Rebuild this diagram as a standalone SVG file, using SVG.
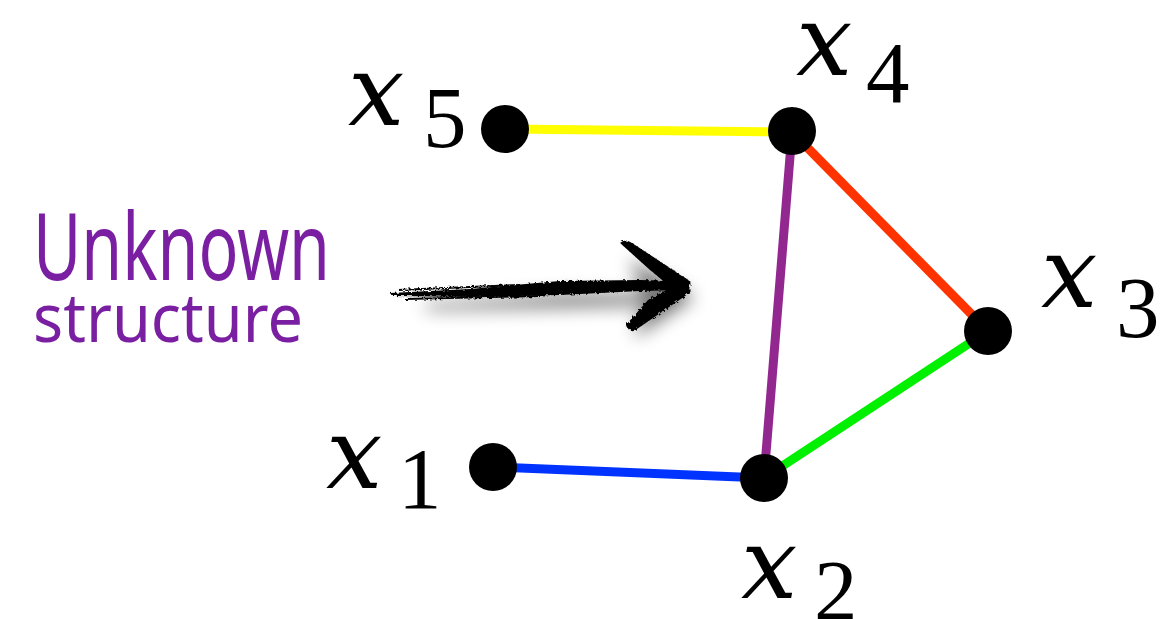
<svg xmlns="http://www.w3.org/2000/svg" width="1162" height="619" viewBox="0 0 1162 619">
<style>
.var{font-family:"DejaVu Serif","Liberation Serif",serif;font-style:italic;font-size:100px;fill:#000}
.sub{font-family:"Liberation Serif","DejaVu Serif",serif;font-size:87px;fill:#000}
.edge{stroke-width:9;stroke-linecap:butt;fill:none}
.dot{fill:#000}
.hand{font-family:"Noto Sans","Open Sans",sans-serif;fill:#7b1fa2}
</style>
<defs>
<filter id="blur" x="-30%" y="-80%" width="160%" height="260%">
<feGaussianBlur stdDeviation="9"/>
</filter>
<filter id="rough" x="-5%" y="-20%" width="110%" height="140%">
<feTurbulence type="fractalNoise" baseFrequency="0.35" numOctaves="2" seed="3" result="n"/>
<feDisplacementMap in="SourceGraphic" in2="n" scale="4"/>
</filter>
</defs>
<rect width="1162" height="619" fill="#fff"/>
<g id="label">
<text class="hand" x="33" y="280" font-size="94" textLength="297" lengthAdjust="spacingAndGlyphs">Unknown</text>
<text class="hand" x="33" y="342" font-size="68" textLength="270" lengthAdjust="spacingAndGlyphs">structure</text>
</g>
<g id="arrow">
<g filter="url(#blur)" opacity="0.55" transform="translate(6,12)">
<path d="M420,292 L560,282 L680,282 L682,292 L560,295 L420,298 Z" fill="#000"/>
<path d="M624,246 L688,285 L628,326 L640,288 Z" fill="#000"/>
</g>
<g filter="url(#rough)">
<path d="M390,293 L470,289 L560,281 L640,280 L682,281 L683,290 L640,291 L560,295 L470,297 L392,296 Z" fill="#000"/>
<path d="M398,290 L520,285" stroke="#000" stroke-width="2" fill="none"/>
<path d="M405,299 L540,296" stroke="#000" stroke-width="2" fill="none"/>
<path d="M620,243 Q625,238 632,243 L690,281 Q692,287 686,291 L673,289 L650,270 Z" fill="#000"/>
<path d="M686,283 Q692,289 688,294 L637,329 Q628,333 626,325 L648,300 L668,289 Z" fill="#000"/>
</g>
</g>
<g id="connectors">
<line class="edge" x1="505" y1="129" x2="792" y2="132" stroke="#ffff00"/>
<line class="edge" x1="493" y1="467" x2="764" y2="478" stroke="#0033ff"/>
<line class="edge" x1="792" y1="132" x2="764" y2="478" stroke="#92278f"/>
<line class="edge" x1="792" y1="132" x2="988" y2="331" stroke="#ff3300"/>
<line class="edge" x1="988" y1="331" x2="764" y2="478" stroke="#00f000"/>
</g>
<g id="x5">
<circle class="dot" cx="505" cy="129" r="24"/>
<text class="var" x="348" y="125">x</text>
<text class="sub" x="423" y="147">5</text>
</g>
<g id="x4">
<circle class="dot" cx="792" cy="131" r="24"/>
<text class="var" x="796" y="75">x</text>
<text class="sub" x="866" y="102">4</text>
</g>
<g id="x3">
<circle class="dot" cx="988" cy="331" r="24"/>
<text class="var" x="1041" y="307">x</text>
<text class="sub" x="1116" y="337">3</text>
</g>
<g id="x2">
<circle class="dot" cx="764" cy="478" r="24"/>
<text class="var" x="741" y="598">x</text>
<text class="sub" x="814" y="620">2</text>
</g>
<g id="x1">
<circle class="dot" cx="493" cy="467" r="24"/>
<text class="var" x="326" y="488">x</text>
<text class="sub" x="398" y="508">1</text>
</g>
</svg>
